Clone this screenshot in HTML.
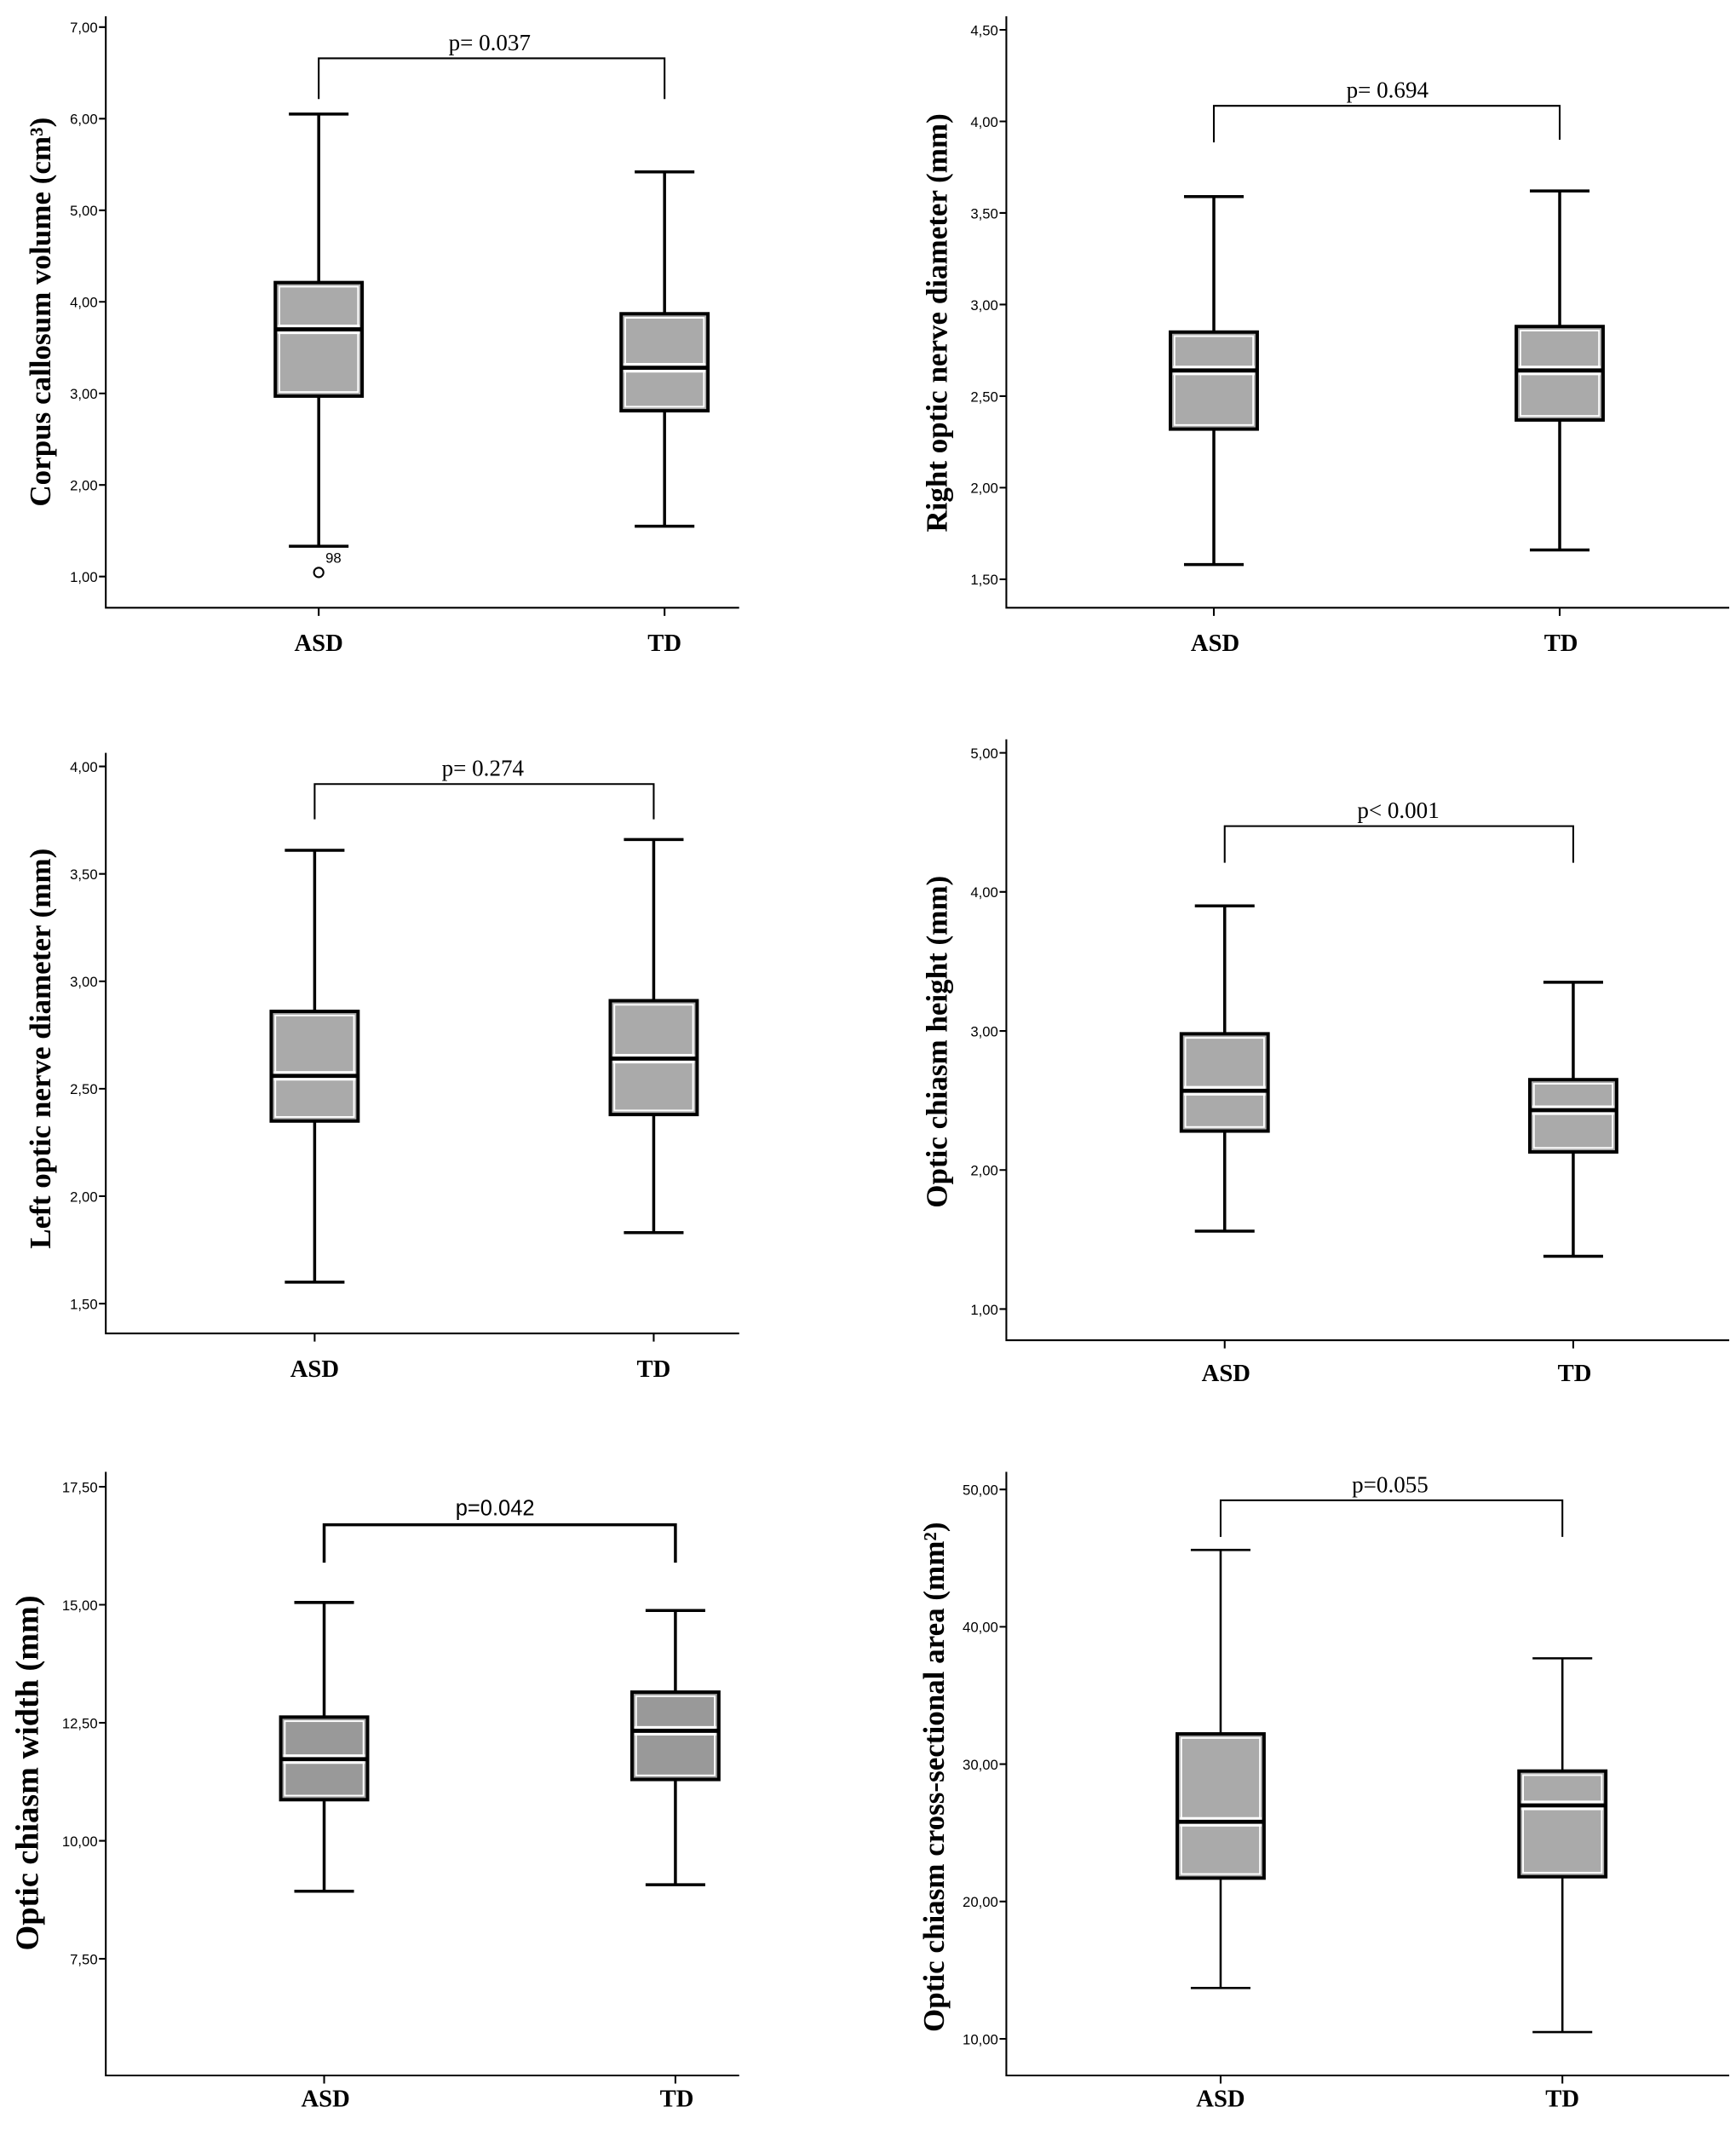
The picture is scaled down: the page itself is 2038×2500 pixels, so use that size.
<!DOCTYPE html>
<html><head><meta charset="utf-8"><style>html,body{margin:0;padding:0;background:#fff}svg{display:block}</style></head><body>
<svg width="2038" height="2500" viewBox="0 0 1280 1570.2" preserveAspectRatio="none" xmlns="http://www.w3.org/2000/svg">
<style>
.ax{stroke:#000;stroke-width:1.3;fill:none}
.w{stroke:#000;stroke-width:2.2;fill:none}
.tl{font-family:"Liberation Sans",sans-serif;font-size:10.5px;text-anchor:end}
.tt{font-family:"Liberation Serif",serif;font-weight:bold;font-size:22px;text-anchor:middle}
.cl{font-family:"Liberation Serif",serif;font-weight:bold;font-size:18px;text-anchor:middle}
.pv{font-family:"Liberation Serif",serif;font-size:17px;text-anchor:middle}
.bx{fill:#aaa;stroke:#000;stroke-width:2.5}
.bi{fill:none;stroke:#fff;stroke-width:1.2}
.mw{stroke:#fff;stroke-width:7}
.mb{stroke:#000;stroke-width:3}
</style>

<!-- Panel 1 -->
<path class="ax" d="M78,12V448H545M235,448v6M490,448v6"/>
<g class="ax"><path d="M73,20h5M73,87.5h5M73,155h5M73,222.5h5M73,290h5M73,357.5h5M73,425h5"/></g>
<g class="tl"><text x="72" y="24">7,00</text><text x="72" y="91.5">6,00</text><text x="72" y="159">5,00</text><text x="72" y="226.5">4,00</text><text x="72" y="294">3,00</text><text x="72" y="361.5">2,00</text><text x="72" y="429">1,00</text></g>
<text class="tt" transform="translate(37,230) rotate(-90)">Corpus callosum volume (cm³)</text>
<path class="w" d="M235,84.1V402.7M213,84.1h44M213,402.7h44M490,126.7V387.9M468,126.7h44M468,387.9h44"/>
<rect class="bx" x="203" y="208.3" width="64" height="83.7"/><rect class="bi" x="206" y="211.3" width="58" height="77.7"/>
<line class="mw" x1="205" x2="265" y1="242.8" y2="242.8"/><line class="mb" x1="203" x2="267" y1="242.8" y2="242.8"/>
<rect class="bx" x="458" y="231.3" width="64" height="71.5"/><rect class="bi" x="461" y="234.3" width="58" height="65.5"/>
<line class="mw" x1="460" x2="520" y1="271.1" y2="271.1"/><line class="mb" x1="458" x2="522" y1="271.1" y2="271.1"/>
<circle cx="235" cy="422" r="3.5" fill="#fff" stroke="#000" stroke-width="1.3"/>
<text x="240" y="415" style="font-family:'Liberation Sans',sans-serif;font-size:10.5px">98</text>
<path class="ax" d="M235,73V43H490V73"/>
<text class="pv" x="361" y="37">p= 0.037</text>
<text class="cl" x="235" y="480">ASD</text><text class="cl" x="490" y="480">TD</text>

<!-- Panel 2 -->
<path class="ax" d="M742,12V448H1275M895,448v6M1150,448v6"/>
<path class="ax" d="M737,22h5M737,89.5h5M737,157h5M737,224.5h5M737,292h5M737,359.5h5M737,427h5"/>
<g class="tl"><text x="736" y="26">4,50</text><text x="736" y="93.5">4,00</text><text x="736" y="161">3,50</text><text x="736" y="228.5">3,00</text><text x="736" y="296">2,50</text><text x="736" y="363.5">2,00</text><text x="736" y="431">1,50</text></g>
<text class="tt" transform="translate(698,238) rotate(-90)">Right optic nerve diameter (mm)</text>
<path class="w" d="M895,144.9V416.2M873,144.9h44M873,416.2h44M1150,140.8V405.4M1128,140.8h44M1128,405.4h44"/>
<rect class="bx" x="863" y="244.8" width="64" height="71.5"/><rect class="bi" x="866" y="247.8" width="58" height="65.5"/>
<line class="mw" x1="865" x2="925" y1="273.1" y2="273.1"/><line class="mb" x1="863" x2="927" y1="273.1" y2="273.1"/>
<rect class="bx" x="1118" y="240.7" width="64" height="68.9"/><rect class="bi" x="1121" y="243.7" width="58" height="62.9"/>
<line class="mw" x1="1120" x2="1180" y1="273.1" y2="273.1"/><line class="mb" x1="1118" x2="1182" y1="273.1" y2="273.1"/>
<path class="ax" d="M895,105V78H1150V103"/>
<text class="pv" x="1023" y="72">p= 0.694</text>
<text class="cl" x="896" y="480">ASD</text><text class="cl" x="1151" y="480">TD</text>

<!-- Panel 3 -->
<path class="ax" d="M78,555V983H545M232,983v6M482,983v6"/>
<path class="ax" d="M73,565h5M73,644.2h5M73,723.4h5M73,802.6h5M73,881.8h5M73,961h5"/>
<g class="tl"><text x="72" y="569">4,00</text><text x="72" y="648.2">3,50</text><text x="72" y="727.4">3,00</text><text x="72" y="806.6">2,50</text><text x="72" y="885.8">2,00</text><text x="72" y="965">1,50</text></g>
<text class="tt" transform="translate(37,773) rotate(-90)">Left optic nerve diameter (mm)</text>
<path class="w" d="M232,626.8V945.2M210,626.8h44M210,945.2h44M482,618.9V908.7M460,618.9h44M460,908.7h44"/>
<rect class="bx" x="200" y="745.6" width="64" height="80.8"/><rect class="bi" x="203" y="748.6" width="58" height="74.8"/>
<line class="mw" x1="202" x2="262" y1="793.1" y2="793.1"/><line class="mb" x1="200" x2="264" y1="793.1" y2="793.1"/>
<rect class="bx" x="450" y="737.7" width="64" height="83.9"/><rect class="bi" x="453" y="740.7" width="58" height="77.9"/>
<line class="mw" x1="452" x2="512" y1="780.4" y2="780.4"/><line class="mb" x1="450" x2="514" y1="780.4" y2="780.4"/>
<path class="ax" d="M232,604V578H482V604"/>
<text class="pv" x="356" y="572">p= 0.274</text>
<text class="cl" x="232" y="1015">ASD</text><text class="cl" x="482" y="1015">TD</text>

<!-- Panel 4 -->
<path class="ax" d="M742,545V988H1275M903,988v6M1160,988v6"/>
<path class="ax" d="M737,555h5M737,657.5h5M737,760h5M737,862.5h5M737,965h5"/>
<g class="tl"><text x="736" y="559">5,00</text><text x="736" y="661.5">4,00</text><text x="736" y="764">3,00</text><text x="736" y="866.5">2,00</text><text x="736" y="969">1,00</text></g>
<text class="tt" transform="translate(698,768) rotate(-90)">Optic chiasm height (mm)</text>
<path class="w" d="M903,667.8V907.6M881,667.8h44M881,907.6h44M1160,724.1V926.1M1138,724.1h44M1138,926.1h44"/>
<rect class="bx" x="871" y="762.1" width="64" height="71.7"/><rect class="bi" x="874" y="765.1" width="58" height="65.7"/>
<line class="mw" x1="873" x2="933" y1="804.1" y2="804.1"/><line class="mb" x1="871" x2="935" y1="804.1" y2="804.1"/>
<rect class="bx" x="1128" y="795.9" width="64" height="53.3"/><rect class="bi" x="1131" y="798.9" width="58" height="47.3"/>
<line class="mw" x1="1130" x2="1190" y1="818.4" y2="818.4"/><line class="mb" x1="1128" x2="1192" y1="818.4" y2="818.4"/>
<path class="ax" d="M903,636V609H1160V636"/>
<text class="pv" x="1031" y="603">p&lt; 0.001</text>
<text class="cl" x="904" y="1018">ASD</text><text class="cl" x="1161" y="1018">TD</text>

<!-- Panel 5 -->
<path class="ax" d="M78,1085V1530H545M239,1530v6M498,1530v6"/>
<path class="ax" d="M73,1096h5M73,1183h5M73,1270h5M73,1357h5M73,1444h5"/>
<g class="tl"><text x="72" y="1100">17,50</text><text x="72" y="1187">15,00</text><text x="72" y="1274">12,50</text><text x="72" y="1361">10,00</text><text x="72" y="1448">7,50</text></g>
<text class="tt" style="font-size:24px" transform="translate(28,1307) rotate(-90)">Optic chiasm width (mm)</text>
<path class="w" d="M239,1181.3V1394.2M217,1181.3h44M217,1394.2h44M498,1187.2V1389.4M476,1187.2h44M476,1389.4h44"/>
<rect class="bx" x="207" y="1265.8" width="64" height="60.9" style="fill:#999"/><rect class="bi" x="210" y="1268.8" width="58" height="54.9"/>
<line class="mw" x1="209" x2="269" y1="1296.8" y2="1296.8"/><line class="mb" x1="207" x2="271" y1="1296.8" y2="1296.8"/>
<rect class="bx" x="466" y="1247.4" width="64" height="64.4" style="fill:#999"/><rect class="bi" x="469" y="1250.4" width="58" height="58.4"/>
<line class="mw" x1="468" x2="528" y1="1275.9" y2="1275.9"/><line class="mb" x1="466" x2="530" y1="1275.9" y2="1275.9"/>
<path class="w" d="M239,1152V1124H498V1152"/>
<text class="pv" x="365" y="1117" style="font-family:'Liberation Sans',sans-serif;font-size:16px">p=0.042</text>
<text class="cl" x="240" y="1553">ASD</text><text class="cl" x="499" y="1553">TD</text>

<!-- Panel 6 -->
<path class="ax" d="M742,1085V1530H1275M900,1530v6M1152,1530v6"/>
<path class="ax" d="M737,1098h5M737,1199.25h5M737,1300.5h5M737,1401.75h5M737,1503h5"/>
<g class="tl"><text x="736" y="1102">50,00</text><text x="736" y="1203.25">40,00</text><text x="736" y="1304.5">30,00</text><text x="736" y="1405.75">20,00</text><text x="736" y="1507">10,00</text></g>
<text class="tt" transform="translate(696,1310) rotate(-90)">Optic chiasm cross-sectional area (mm²)</text>
<path class="w" d="M900,1142.6V1465.5M878,1142.6h44M878,1465.5h44M1152,1222.5V1498M1130,1222.5h44M1130,1498h44" style="stroke-width:1.6"/>
<rect class="bx" x="868" y="1278.2" width="64" height="106.3"/><rect class="bi" x="871" y="1281.2" width="58" height="100.3"/>
<line class="mw" x1="870" x2="930" y1="1343" y2="1343"/><line class="mb" x1="868" x2="932" y1="1343" y2="1343"/>
<rect class="bx" x="1120" y="1305.6" width="64" height="77.9"/><rect class="bi" x="1123" y="1308.6" width="58" height="71.9"/>
<line class="mw" x1="1122" x2="1182" y1="1330.9" y2="1330.9"/><line class="mb" x1="1120" x2="1184" y1="1330.9" y2="1330.9"/>
<path class="ax" d="M900,1133V1106H1152V1133"/>
<text class="pv" x="1025" y="1100">p=0.055</text>
<text class="cl" x="900" y="1553">ASD</text><text class="cl" x="1152" y="1553">TD</text>
</svg>
</body></html>
